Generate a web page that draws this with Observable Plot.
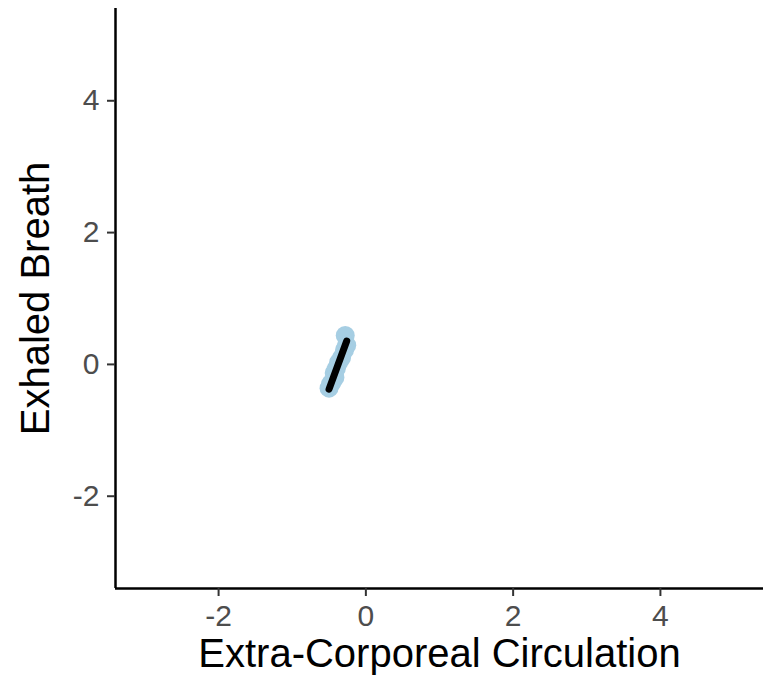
<!DOCTYPE html>
<html>
<head>
<meta charset="utf-8">
<script src="https://cdn.jsdelivr.net/npm/d3@7"></script>
<script src="https://cdn.jsdelivr.net/npm/@observablehq/plot@0.6"></script>
<style>
  html, body { margin: 0; padding: 0; background: #fff; }
  #chart svg { display: block; }
</style>
</head>
<body>
<div id="chart"></div>
<script>
const ecc = [-0.28, -0.26, -0.29, -0.33, -0.37, -0.40, -0.43, -0.42, -0.46, -0.50, -0.48];
const breath = [0.44, 0.29, 0.22, 0.10, 0.03, -0.06, -0.13, -0.20, -0.27, -0.36, -0.30];
const xDomain = [-3.4, 5.4];
const yDomain = [-3.4, 5.4];
const xTicks = [-2, 0, 2, 4];
const yTicks = [-2, 0, 2, 4];
const xTitle = "Extra-Corporeal Circulation";
const yTitle = "Exhaled Breath";

const data = ecc.map((x, i) => ({x, y: breath[i]}));
const font = "'Liberation Sans', Arial, sans-serif";
const fmt = d => String(d);

const plot = Plot.plot({
  width: 765,
  height: 693,
  marginLeft: 115,
  marginRight: 2,
  marginTop: 8,
  marginBottom: 105,
  style: {fontFamily: font, background: "#fff"},
  x: {domain: xDomain},
  y: {domain: yDomain},
  marks: [
    Plot.ruleX([xDomain[0]], {stroke: "black", strokeWidth: 2.5}),
    Plot.ruleY([yDomain[0]], {stroke: "black", strokeWidth: 2.5}),
    Plot.axisX(xTicks, {tickSize: 8, tickPadding: 8, fontSize: 30, stroke: "#333", strokeWidth: 2, fill: "#4d4d4d", label: null, tickFormat: fmt}),
    Plot.axisY(yTicks, {tickSize: 8, tickPadding: 8, fontSize: 30, stroke: "#333", strokeWidth: 2, fill: "#4d4d4d", label: null, tickFormat: fmt}),
    Plot.text([xTitle], {frameAnchor: "bottom", textAnchor: "middle", dy: 78, fontSize: 40, fill: "black"}),
    Plot.text([yTitle], {frameAnchor: "left", textAnchor: "middle", dx: -79, rotate: -90, fontSize: 40, fill: "black"}),
    Plot.dot(data, {x: "x", y: "y", r: 9.5, fill: "#a6cee3", stroke: "none"}),
    Plot.linearRegressionY(data, {x: "x", y: "y", stroke: "black", strokeWidth: 7, ci: 0})
  ]
});
document.getElementById("chart").append(plot);
</script>
</body>
</html>
